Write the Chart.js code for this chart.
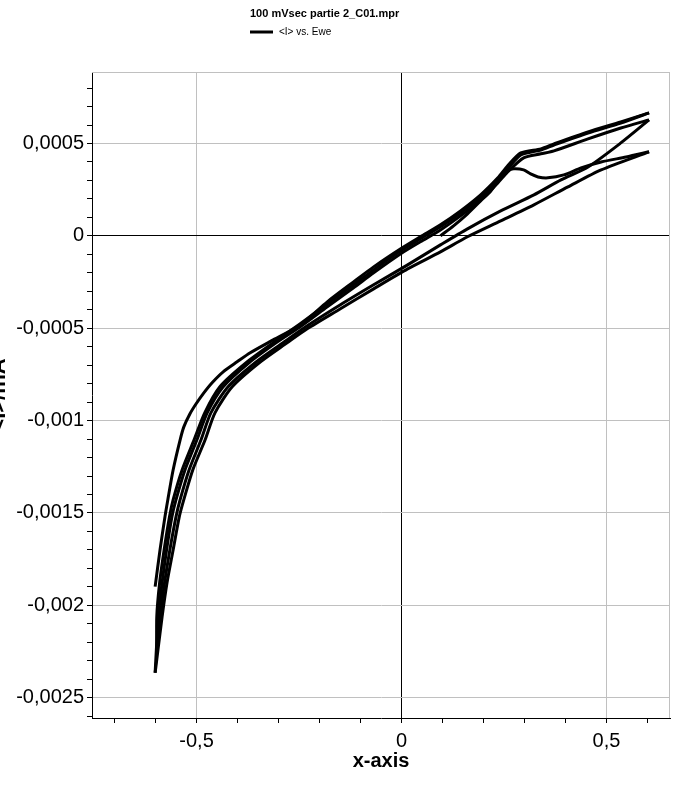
<!DOCTYPE html>
<html>
<head>
<meta charset="utf-8">
<script src="https://cdn.jsdelivr.net/npm/chart.js@4.4.1/dist/chart.umd.min.js"></script>
<style>
  html, body { margin: 0; padding: 0; background: #fff; overflow: hidden; }
  #wrap { position: relative; width: 684px; height: 793px; overflow: hidden; }
  #cv { position: absolute; left: -14px; top: 0; }
</style>
</head>
<body>
<div id="wrap"><canvas id="cv" width="698" height="793"></canvas></div>
<script>
// chart texts
var chartTitle = "100 mVsec partie 2_C01.mpr";
var seriesLabel = "<I> vs. Ewe";
var xTitle = "x-axis";
var yTitle = "<I>/mA";

// axis ranges and ticks (decimal comma like the original)
var xMin = -0.755, xMax = 0.655;
var yMin = -0.00261, yMax = 0.000887;
var xTicks = [-0.7, -0.6, -0.5, -0.4, -0.3, -0.2, -0.1, 0, 0.1, 0.2, 0.3, 0.4, 0.5, 0.6];
var xLabelValues = [-0.5, 0, 0.5];
var xLabelTexts = ["-0,5", "0", "0,5"];
var yTicks = [0.0008, 0.0007, 0.0006, 0.0005, 0.0004, 0.0003, 0.0002, 0.0001, 0,
  -0.0001, -0.0002, -0.0003, -0.0004, -0.0005, -0.0006, -0.0007, -0.0008, -0.0009,
  -0.001, -0.0011, -0.0012, -0.0013, -0.0014, -0.0015, -0.0016, -0.0017, -0.0018,
  -0.0019, -0.002, -0.0021, -0.0022, -0.0023, -0.0024, -0.0025, -0.0026];
var yLabelValues = [0.0005, 0, -0.0005, -0.001, -0.0015, -0.002, -0.0025];
var yLabelTexts = ["0,0005", "0", "-0,0005", "-0,001", "-0,0015", "-0,002", "-0,0025"];

// sweep 1, anodic, starts at 0.1 V
var sweep1E = [0.095, 0.127, 0.161, 0.193, 0.218, 0.242, 0.259, 0.274, 0.298, 0.315, 0.333, 0.357, 0.396, 0.438, 0.487, 0.548, 0.604];
var sweep1I = [0.000000, 0.000054, 0.000119, 0.000189, 0.000243, 0.000314, 0.000352, 0.000363, 0.000357, 0.000335, 0.000319, 0.000314, 0.000330, 0.000368, 0.000400, 0.000427, 0.000455];

// sweep 2, cathodic
var sweep2E = [0.604, 0.487, 0.406, 0.323, 0.242, 0.161, 0.095, 0.015, -0.068, -0.149, -0.230, -0.279, -0.347, -0.413, -0.455, -0.479, -0.509, -0.531, -0.542, -0.557, -0.572, -0.584, -0.594, -0.601];
var sweep2I = [0.000455, 0.000357, 0.000265, 0.000168, 0.000081, -0.000005, -0.000087, -0.000179, -0.000287, -0.000395, -0.000503, -0.000579, -0.000687, -0.000817, -0.000958, -0.001104, -0.001266, -0.001428, -0.001520, -0.001699, -0.001878, -0.002062, -0.002240, -0.002365];

// sweep 3, anodic
var sweep3E = [-0.601, -0.598, -0.593, -0.584, -0.573, -0.560, -0.550, -0.528, -0.499, -0.474, -0.435, -0.372, -0.306, -0.247, -0.181, -0.117, -0.068, -0.002, 0.046, 0.095, 0.144, 0.193, 0.235, 0.259, 0.298, 0.340, 0.372, 0.455, 0.535, 0.604];
var sweep3I = [-0.002365, -0.002240, -0.002062, -0.001878, -0.001699, -0.001520, -0.001428, -0.001266, -0.001104, -0.000958, -0.000817, -0.000687, -0.000579, -0.000492, -0.000384, -0.000281, -0.000200, -0.000097, -0.000032, 0.000032, 0.000108, 0.000195, 0.000287, 0.000346, 0.000422, 0.000444, 0.000460, 0.000525, 0.000584, 0.000628];

// sweep 4, cathodic
var sweep4E = [0.604, 0.535, 0.455, 0.389, 0.323, 0.242, 0.161, 0.095, 0.015, -0.068, -0.149, -0.230, -0.289, -0.357, -0.423, -0.465, -0.489, -0.518, -0.540, -0.550, -0.565, -0.578, -0.589, -0.597];
var sweep4I = [0.000628, 0.000503, 0.000373, 0.000303, 0.000222, 0.000135, 0.000038, -0.000049, -0.000157, -0.000265, -0.000373, -0.000487, -0.000579, -0.000687, -0.000817, -0.000958, -0.001104, -0.001266, -0.001428, -0.001520, -0.001699, -0.001878, -0.002062, -0.002240];

// sweep 5, anodic
var sweep5E = [-0.597, -0.597, -0.590, -0.579, -0.566, -0.557, -0.535, -0.506, -0.480, -0.443, -0.379, -0.313, -0.247, -0.181, -0.117, -0.068, -0.002, 0.046, 0.095, 0.144, 0.193, 0.235, 0.259, 0.291, 0.340, 0.372, 0.455, 0.535, 0.604];
var sweep5I = [-0.002240, -0.002062, -0.001878, -0.001699, -0.001520, -0.001428, -0.001266, -0.001104, -0.000958, -0.000817, -0.000687, -0.000579, -0.000476, -0.000368, -0.000265, -0.000184, -0.000081, -0.000016, 0.000049, 0.000124, 0.000211, 0.000303, 0.000363, 0.000438, 0.000465, 0.000492, 0.000557, 0.000611, 0.000666];

// sweep 6, cathodic, ends at -0.6 V
var sweep6E = [0.604, 0.535, 0.455, 0.372, 0.340, 0.291, 0.259, 0.235, 0.193, 0.144, 0.095, 0.046, -0.002, -0.068, -0.117, -0.181, -0.247, -0.313, -0.369, -0.401, -0.435, -0.462, -0.484, -0.501, -0.516, -0.531, -0.540, -0.557, -0.570, -0.577, -0.589, -0.601];
var sweep6I = [0.000666, 0.000617, 0.000563, 0.000498, 0.000471, 0.000449, 0.000379, 0.000314, 0.000222, 0.000135, 0.000060, -0.000005, -0.000070, -0.000168, -0.000249, -0.000357, -0.000482, -0.000563, -0.000633, -0.000682, -0.000736, -0.000795, -0.000855, -0.000909, -0.000963, -0.001034, -0.001104, -0.001266, -0.001428, -0.001520, -0.001699, -0.001899];

var sweepsE = [sweep1E, sweep2E, sweep3E, sweep4E, sweep5E, sweep6E];
var sweepsI = [sweep1I, sweep2I, sweep3I, sweep4I, sweep5I, sweep6I];

var fontFamily = '"Liberation Sans", Arial, sans-serif';
var shiftX = 14; // canvas is moved 14px left so the y title gets clipped like the original

function labelFor(v, values, texts) {
  for (var i = 0; i < values.length; i++) {
    if (Math.abs(v - values[i]) < 1e-9) return texts[i];
  }
  return "";
}

function gridColor(values) {
  return function (c) {
    if (!c.tick) return "transparent";
    if (Math.abs(c.tick.value) < 1e-9) return "#000";
    return labelFor(c.tick.value, values, values.map(String)) !== "" ? "#c0c0c0" : "transparent";
  };
}

var datasets = sweepsE.map(function (es, k) {
  return {
    label: seriesLabel,
    data: es.map(function (e, i) { return { x: e, y: sweepsI[k][i] }; }),
    showLine: true,
    fill: false,
    borderColor: "#000",
    borderWidth: 3,
    pointRadius: 0,
    tension: 0.25
  };
});

// frame lines, title and legend
var decor = {
  id: "decor",
  beforeDatasetsDraw: function (chart) {
    var ctx = chart.ctx, a = chart.chartArea;
    ctx.save();
    ctx.strokeStyle = "#c0c0c0";
    ctx.lineWidth = 1;
    ctx.beginPath();
    ctx.moveTo(a.left, a.top + 0.5);
    ctx.lineTo(a.right, a.top + 0.5);
    ctx.moveTo(a.right - 0.5, a.top);
    ctx.lineTo(a.right - 0.5, a.bottom);
    ctx.stroke();
    ctx.restore();
  },
  afterDraw: function (chart) {
    var ctx = chart.ctx;
    ctx.save();
    ctx.fillStyle = "#000";
    ctx.textBaseline = "middle";
    ctx.textAlign = "left";
    ctx.font = "bold 11px " + fontFamily;
    ctx.fillText(chartTitle, 250 + shiftX, 14);
    ctx.strokeStyle = "#000";
    ctx.lineWidth = 3;
    ctx.beginPath();
    ctx.moveTo(250 + shiftX, 32);
    ctx.lineTo(273 + shiftX, 32);
    ctx.stroke();
    ctx.font = "10px " + fontFamily;
    ctx.fillText(chart.data.datasets[0].label, 279 + shiftX, 32);
    ctx.restore();
  }
};

new Chart(document.getElementById("cv"), {
  type: "scatter",
  data: { datasets: datasets },
  options: {
    responsive: false,
    animation: false,
    layout: { padding: { top: 72, right: 14, bottom: 0, left: 0 } },
    plugins: {
      legend: { display: false },
      title: { display: false },
      tooltip: { enabled: false }
    },
    scales: {
      x: {
        type: "linear",
        min: xMin,
        max: xMax,
        afterBuildTicks: function (s) { s.ticks = xTicks.map(function (v) { return { value: v }; }); },
        afterFit: function (s) { s.height = 75; },
        ticks: {
          autoSkip: false,
          maxRotation: 0,
          padding: 6,
          color: "#000",
          font: { family: fontFamily, size: 20 },
          callback: function (v) { return labelFor(v, xLabelValues, xLabelTexts); }
        },
        grid: { color: gridColor(xLabelValues), tickColor: "#000", tickLength: 5, lineWidth: 1 },
        border: { color: "#000", width: 1 },
        title: {
          display: true,
          text: xTitle,
          color: "#000",
          font: { family: fontFamily, size: 20, weight: "bold" },
          padding: { top: 0, bottom: 20 }
        }
      },
      y: {
        type: "linear",
        min: yMin,
        max: yMax,
        afterBuildTicks: function (s) { s.ticks = yTicks.map(function (v) { return { value: v }; }); },
        afterFit: function (s) { s.width = 92 + shiftX; },
        ticks: {
          autoSkip: false,
          padding: 3,
          color: "#000",
          font: { family: fontFamily, size: 20 },
          callback: function (v) { return labelFor(v, yLabelValues, yLabelTexts); }
        },
        grid: { color: gridColor(yLabelValues), tickColor: "#000", tickLength: 5, lineWidth: 1 },
        border: { color: "#000", width: 1 },
        title: {
          display: true,
          text: yTitle,
          color: "#000",
          font: { family: fontFamily, size: 22, weight: "bold" },
          padding: { top: 0, bottom: 0 }
        }
      }
    }
  },
  plugins: [decor]
});
</script>
</body>
</html>
